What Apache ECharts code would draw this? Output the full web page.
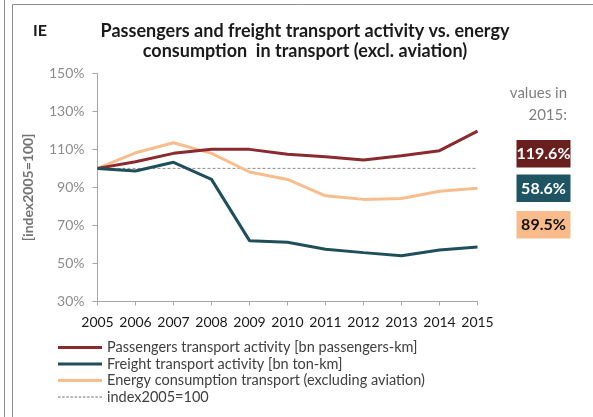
<!DOCTYPE html>
<html>
<head>
<meta charset="utf-8">
<script src="https://cdn.jsdelivr.net/npm/echarts@6/dist/echarts.min.js"></script>
<style>
html,body{margin:0;padding:0;background:#fff;}
#c{width:593px;height:417px;}
</style>
</head>
<body>
<div id="c"></div>
<script>
const years = ['2005','2006','2007','2008','2009','2010','2011','2012','2013','2014','2015'];
const passengers = [100, 103.5, 107.9, 110.0, 110.0, 107.4, 106.1, 104.4, 106.7, 109.3, 119.6];
const freight = [100, 98.6, 103.2, 94.2, 62.0, 61.2, 57.5, 55.7, 54.1, 57.1, 58.6];
const energy = [100, 108.2, 113.5, 107.9, 98.1, 94.2, 85.6, 83.7, 84.2, 88.0, 89.5];
const baseline = [100, 100, 100, 100, 100, 100, 100, 100, 100, 100, 100];
const seriesNames = [
  'Passengers transport activity [bn passengers-km]',
  'Freight transport activity [bn ton-km]',
  'Energy consumption transport (excluding aviation)',
  'index2005=100'
];
const lineColors = ['#8b2a2e', '#1f4f5a', '#f8bd8e', '#6e6e6e'];
const boxColors = ['#6a1f1f', '#1f5463', '#f9bb8b'];
const boxTextColors = ['#ffffff', '#ffffff', '#111111'];

const FONT = 'Lato, "Open Sans", sans-serif';
const chart = echarts.init(document.getElementById('c'), null, {renderer: 'canvas'});

const lastVals = [passengers[10], freight[10], energy[10]];
const boxTops = [140, 174.5, 211];
const boxGraphics = [];
lastVals.forEach((v, i) => {
  boxGraphics.push({
    type: 'rect', x: 516.5, y: boxTops[i],
    shape: {width: 54, height: 27.5},
    style: {fill: boxColors[i]}
  });
  boxGraphics.push({
    type: 'text', x: 543.5, y: boxTops[i] + 14,
    style: {text: v.toFixed(1) + '%', fill: boxTextColors[i], font: 'bold 16px ' + FONT, align: 'center', verticalAlign: 'middle'}
  });
});

const solidIcon = 'path://M0,0 L44,0 L44,3 L0,3 Z';
let dashPath = 'path://';
for (let k = 0; k < 11; k++) { dashPath += 'M' + (k * 4) + ',0 h2.4 v1 h-2.4 Z '; }

chart.setOption({
  animation: false,
  backgroundColor: '#ffffff',
  grid: {left: 97.5, right: 115.5, top: 73.3, bottom: 115.5, containLabel: false},
  xAxis: {
    type: 'category', data: years, boundaryGap: false,
    axisLine: {lineStyle: {color: '#a6a6a6', width: 1}},
    axisTick: {show: true, length: 4, lineStyle: {color: '#a6a6a6'}},
    axisLabel: {color: '#1a1a1a', fontSize: 14, fontFamily: FONT, margin: 14, interval: 0},
    splitLine: {show: false}
  },
  yAxis: {
    type: 'value', min: 30, max: 150, interval: 20,
    name: '[index2005=100]', nameLocation: 'middle', nameGap: 62, nameRotate: 90,
    nameTextStyle: {color: '#737373', fontSize: 14, fontWeight: 'bold', fontFamily: FONT},
    axisLine: {show: true, lineStyle: {color: '#a6a6a6', width: 1}},
    axisTick: {show: true, length: 5, lineStyle: {color: '#a6a6a6'}},
    axisLabel: {color: '#8c8c8c', fontSize: 14, fontFamily: FONT, margin: 13, formatter: v => v + '%'},
    splitLine: {show: false}
  },
  legend: {
    orient: 'vertical', left: 58, top: 340, padding: 0,
    itemWidth: 44, itemHeight: 3, itemGap: 1.5,
    textStyle: {color: '#404040', fontSize: 14.5, fontFamily: FONT, padding: [0, 0, 0, 0]},
    data: [
      {name: seriesNames[0], icon: solidIcon, itemStyle: {color: lineColors[0]}},
      {name: seriesNames[1], icon: solidIcon, itemStyle: {color: lineColors[1]}},
      {name: seriesNames[2], icon: solidIcon, itemStyle: {color: lineColors[2]}},
      {name: seriesNames[3], icon: dashPath, itemHeight: 1, itemStyle: {color: lineColors[3]}}
    ]
  },
  series: [
    {name: seriesNames[0], type: 'line', data: passengers, symbol: 'none', lineStyle: {color: lineColors[0], width: 3}, itemStyle: {color: lineColors[0]}, z: 3},
    {name: seriesNames[1], type: 'line', data: freight, symbol: 'none', lineStyle: {color: lineColors[1], width: 3}, itemStyle: {color: lineColors[1]}, z: 3},
    {name: seriesNames[2], type: 'line', data: energy, symbol: 'none', lineStyle: {color: lineColors[2], width: 3}, itemStyle: {color: lineColors[2]}, z: 2},
    {name: seriesNames[3], type: 'line', data: baseline, symbol: 'none', lineStyle: {color: lineColors[3], width: 0.8, type: [3, 2]}, itemStyle: {color: lineColors[3]}, z: 1}
  ],
  graphic: [
    {type: 'line', shape: {x1: 4.5, y1: 0, x2: 4.5, y2: 417}, style: {stroke: '#8c8c8c', lineWidth: 1}},
    {type: 'line', shape: {x1: 12.5, y1: 4.5, x2: 593, y2: 4.5}, style: {stroke: '#8c8c8c', lineWidth: 1}},
    {type: 'line', shape: {x1: 12.5, y1: 4.5, x2: 12.5, y2: 417}, style: {stroke: '#8c8c8c', lineWidth: 1}},
    {type: 'text', x: 33, y: 31, style: {text: 'IE', fill: '#1a1a1a', font: 'bold 16px ' + FONT, verticalAlign: 'middle'}},
    {type: 'text', x: 305, y: 31, style: {text: 'Passengers and freight transport activity vs. energy', fill: '#1a1a1a', font: 'bold 18px ' + FONT, align: 'center', verticalAlign: 'middle'}},
    {type: 'text', x: 305, y: 51, style: {text: 'consumption  in transport (excl. aviation)', fill: '#1a1a1a', font: 'bold 18px ' + FONT, align: 'center', verticalAlign: 'middle'}},
    {type: 'text', x: 567, y: 93, style: {text: 'values in', fill: '#7f7f7f', font: '15px ' + FONT, align: 'right', verticalAlign: 'middle'}},
    {type: 'text', x: 567, y: 115, style: {text: '2015:', fill: '#7f7f7f', font: '15px ' + FONT, align: 'right', verticalAlign: 'middle'}}
  ].concat(boxGraphics)
});
</script>
</body>
</html>
